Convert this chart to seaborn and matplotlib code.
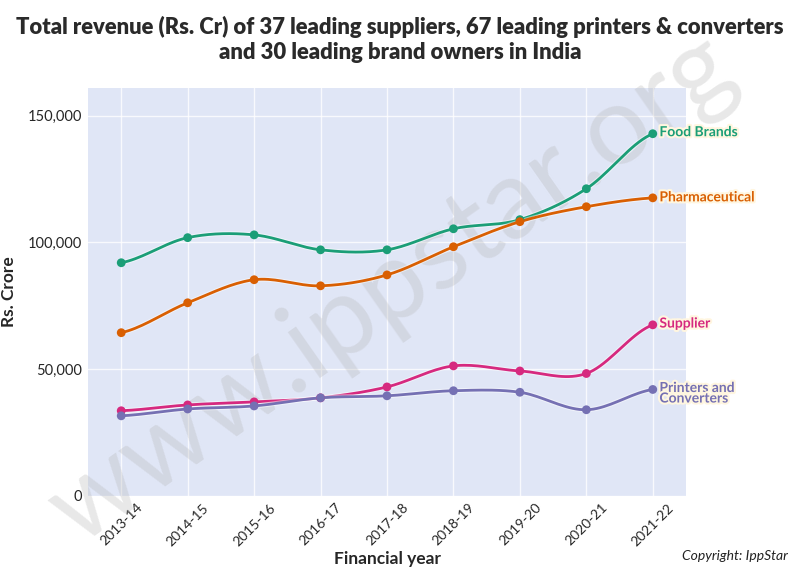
import numpy as np
import pandas as pd
import matplotlib
matplotlib.use("Agg")
import matplotlib.pyplot as plt
import matplotlib.patheffects as pe
import seaborn as sns

# Data (Rs. Crore)
years = ["2013-14", "2014-15", "2015-16", "2016-17", "2017-18",
         "2018-19", "2019-20", "2020-21", "2021-22"]
food_brands = [92000, 101900, 103000, 97100, 97100, 105400, 109000, 121200, 142900]
pharmaceutical = [64400, 76200, 85300, 82900, 87200, 98300, 108200, 114100, 117600]
supplier = [33600, 35900, 37100, 38700, 43000, 51300, 49300, 48300, 67500]
printers = [31600, 34300, 35500, 38700, 39500, 41500, 40900, 34000, 42000]

series_names = ["Food Brands", "Pharmaceutical", "Supplier", "Printers and\nConverters"]
series_values = [food_brands, pharmaceutical, supplier, printers]
colors = ["#1b9e77", "#d95f02", "#d6297f", "#7570b3"]

rows = []
for name, vals in zip(series_names, series_values):
    for i, v in enumerate(vals):
        rows.append({"idx": i, "year": years[i], "value": v, "series": name})
df = pd.DataFrame(rows)


def smooth(x, y, n=20, t=0.5):
    # Catmull-Rom style spline through the points (plotly "spline" look)
    x = np.asarray(x, float)
    y = np.asarray(y, float)
    px = np.concatenate([[2 * x[0] - x[1]], x, [2 * x[-1] - x[-2]]])
    py = np.concatenate([[y[0]], y, [y[-1]]])
    xs, ys = [], []
    for i in range(1, len(px) - 2):
        s = np.linspace(0, 1, n)
        m1x = t * (px[i + 1] - px[i - 1]); m2x = t * (px[i + 2] - px[i])
        m1y = t * (py[i + 1] - py[i - 1]); m2y = t * (py[i + 2] - py[i])
        h00 = 2 * s**3 - 3 * s**2 + 1
        h10 = s**3 - 2 * s**2 + s
        h01 = -2 * s**3 + 3 * s**2
        h11 = s**3 - s**2
        xs.append(h00 * px[i] + h10 * m1x + h01 * px[i + 1] + h11 * m2x)
        ys.append(h00 * py[i] + h10 * m1y + h01 * py[i + 1] + h11 * m2y)
    return np.concatenate(xs), np.concatenate(ys)


sns.set_theme(style="darkgrid")
plt.rcParams["font.family"] = ["Lato", "DejaVu Sans"]

fig = plt.figure(figsize=(8, 5.78), dpi=100)
ax = fig.add_axes([0.11, 0.142, 0.7475, 0.706])
ax.set_facecolor("#e0e6f6")

for name, color in zip(series_names, colors):
    sub = df[df["series"] == name]
    sx, sy = smooth(sub["idx"], sub["value"])
    ax.plot(sx, sy, color=color, lw=2, zorder=3,
            path_effects=[pe.Stroke(linewidth=3.5, foreground="white", alpha=0.5), pe.Normal()])

sns.scatterplot(data=df, x="idx", y="value", hue="series", palette=colors,
                s=40, edgecolor="none", legend=False, ax=ax, zorder=4)

# end labels
label_y = {"Food Brands": 143500, "Pharmaceutical": 117800,
           "Supplier": 68000, "Printers and\nConverters": 40500}
for name, color, vals in zip(series_names, colors, series_values):
    ax.text(8.1, label_y[name], name, color=color, fontsize=10, fontweight="bold",
            va="center", ha="left", linespacing=0.85, clip_on=False, zorder=5,
            path_effects=[pe.withStroke(linewidth=3, foreground="#fff6e0")])

ax.set_xlim(-0.5, 8.5)
ax.set_ylim(0, 161000)
ax.set_xticks(range(len(years)))
ax.set_xticklabels(years, rotation=45, fontsize=10)
ax.set_yticks([0, 50000, 100000, 150000])
ax.set_yticklabels(["0", "50,000", "100,000", "150,000"], fontsize=10.5)
ax.grid(color="white", lw=1.0, alpha=0.8)
ax.tick_params(axis="both", length=0, pad=4)
for s in ax.spines.values():
    s.set_visible(False)

ax.set_xlabel("Financial year", fontsize=12.5, fontweight="bold", labelpad=2)
ax.set_ylabel("Rs. Crore", fontsize=12.5, fontweight="bold", labelpad=8)

fig.suptitle("Total revenue (Rs. Cr) of 37 leading suppliers, 67 leading printers & converters\n"
             "and 30 leading brand owners in India",
             x=0.5, y=0.972, fontsize=15.8, fontweight="heavy", color="#2a2a2a", linespacing=1.2)

fig.text(0.985, 0.038, "Copyright: IppStar", ha="right", va="center",
         fontsize=10, style="italic", color="#222222")

# watermark, behind the lines
ax.text(0.49, 0.5, "www.ippstar.org", transform=fig.transFigure, ha="center", va="center",
        rotation=35, fontsize=80, color="#b4b4b4", alpha=0.3, zorder=2, clip_on=False)

fig.savefig("out.png", dpi=100)
